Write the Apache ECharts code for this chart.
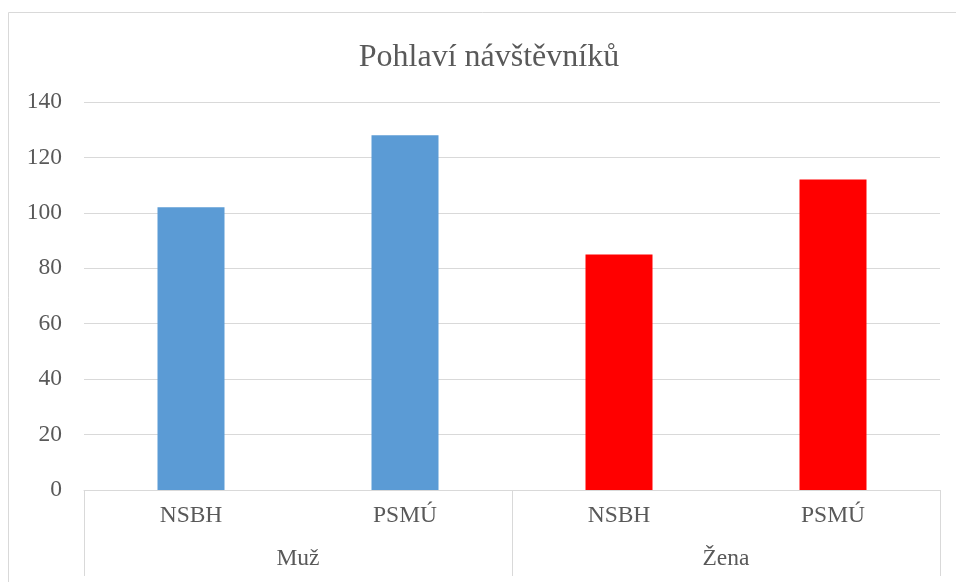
<!DOCTYPE html>
<html>
<head>
<meta charset="utf-8">
<script src="https://cdn.jsdelivr.net/npm/echarts@6/dist/echarts.min.js"></script>
<style>
html,body{margin:0;padding:0;background:#fff;}
#c{width:956px;height:582px;}
</style>
</head>
<body>
<div id="c"></div>
<script>
const titleText = 'Pohlaví návštěvníků';
const categories = ['NSBH', 'PSMÚ', 'NSBH', 'PSMÚ'];
const groups = ['Muž', 'Žena'];
const values = [102, 128, 85, 112];
const groupOfBar = [0, 0, 1, 1];
const groupColors = ['#5B9BD5', '#FF0000'];
const yTicks = [0, 20, 40, 60, 80, 100, 120, 140];

const chart = echarts.init(document.getElementById('c'));
const font = '"Liberation Serif", "Times New Roman", serif';
chart.setOption({
  animation: false,
  title: {
    text: titleText,
    left: 484, top: 37, textAlign: 'center',
    textStyle: {fontFamily: font, fontSize: 32, fontWeight: 'normal', color: '#595959'}
  },
  graphic: [{
    type: 'rect', shape: {x: 8.5, y: 12.5, width: 1000, height: 1000},
    style: {fill: 'none', stroke: '#d9d9d9', lineWidth: 1}, silent: true
  }],
  grid: {left: 84, right: 16, top: 102, bottom: 92, containLabel: false},
  xAxis: [{
    type: 'category', data: categories, position: 'bottom',
    axisLine: {show: true, lineStyle: {color: '#d9d9d9', width: 1}},
    axisTick: {show: false},
    axisLabel: {fontFamily: font, fontSize: 23.5, color: '#595959', margin: 14}
  }, {
    type: 'category', data: groups, position: 'bottom',
    axisLine: {show: false},
    axisTick: {show: true, length: 86, lineStyle: {color: '#d9d9d9', width: 1}},
    axisLabel: {fontFamily: font, fontSize: 23.5, color: '#595959', margin: 57}
  }],
  yAxis: {
    type: 'value', min: yTicks[0], max: yTicks[yTicks.length - 1], interval: 20,
    axisLine: {show: false}, axisTick: {show: false},
    splitLine: {lineStyle: {color: '#d9d9d9', width: 1}},
    axisLabel: {fontFamily: font, fontSize: 23.5, color: '#595959', margin: 22}
  },
  series: [{
    type: 'bar', xAxisIndex: 0,
    barWidth: 67,
    data: values.map((v, i) => ({value: v, itemStyle: {color: groupColors[groupOfBar[i]]}}))
  }]
});
</script>
</body>
</html>
